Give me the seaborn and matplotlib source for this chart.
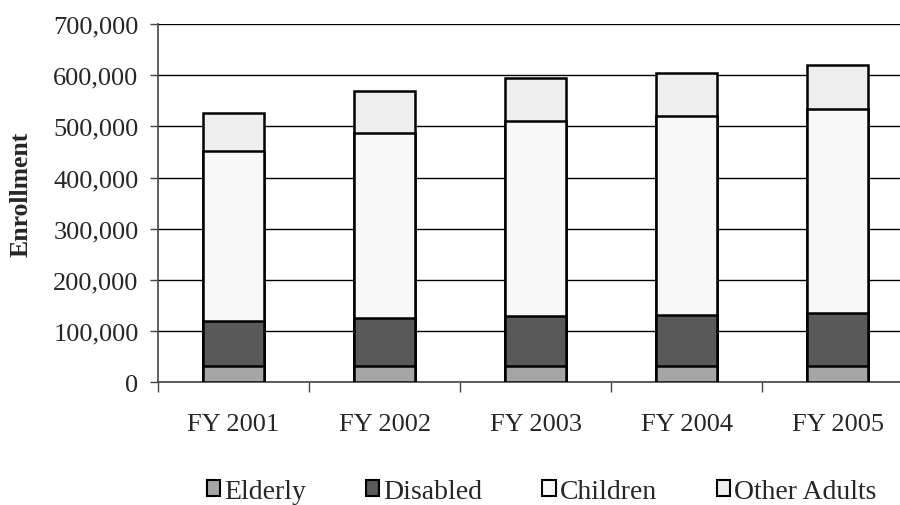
import pandas as pd
import matplotlib
matplotlib.use("Agg")
import matplotlib.pyplot as plt
import seaborn as sns
from matplotlib.patches import Patch

years = ["FY 2001", "FY 2002", "FY 2003", "FY 2004", "FY 2005"]
elderly = [32400, 32400, 32400, 32400, 32400]
disabled = [87900, 92600, 96500, 99600, 102900]
children = [330700, 362000, 382100, 387500, 398500]
other_adults = [75600, 82000, 83300, 84000, 86500]

groups = ["Elderly", "Disabled", "Children", "Other Adults"]
colors = ["#a6a6a6", "#595959", "#f8f8f8", "#eeeeee"]

df = pd.DataFrame({"year": years, "Elderly": elderly, "Disabled": disabled,
                   "Children": children, "Other Adults": other_adults})

# cumulative tops, drawn biggest first so smaller stacks sit on top
cum = df[groups].cumsum(axis=1)
cum["year"] = df["year"]

sns.set_style("white")
plt.rcParams["font.family"] = ["Liberation Serif", "DejaVu Serif"]

fig = plt.figure(figsize=(9, 5.06), dpi=100)
ax = fig.add_axes([0.1756, 0.2425, 0.839, 0.708])

for g, c in reversed(list(zip(groups, colors))):
    sns.barplot(data=cum, x="year", y=g, color=c, width=0.4,
                edgecolor="black", linewidth=1.8, saturation=1, ax=ax, zorder=3)

ax.set_ylim(0, 700000)
ax.set_xlim(-0.5, 4.5)
ax.set_yticks(range(0, 700001, 100000))
ax.set_yticklabels([f"{v:,}" for v in range(0, 700001, 100000)], fontsize=19)
ax.yaxis.grid(True, color="black", linewidth=1)
ax.set_axisbelow(True)
ax.set_ylabel("Enrollment", fontsize=18.5, fontweight="bold")
ax.yaxis.set_label_coords(-0.1656, 0.528)
ax.set_xlabel("")
ax.tick_params(axis="x", length=0, labelsize=19, pad=22)
ax.tick_params(axis="y", left=True, length=6, width=1, color="#444444", pad=8)
ax.set_xticks([i + 0.5 for i in range(-1, 5)], minor=True)
ax.tick_params(axis="x", which="minor", bottom=True, length=7, width=1, color="#444444")

for s in ["top", "right"]:
    ax.spines[s].set_visible(False)
for s in ["left", "bottom"]:
    ax.spines[s].set_color("#444444")
    ax.spines[s].set_linewidth(1.2)

handles = [Patch(facecolor=c, edgecolor="black", linewidth=1.5, label=g)
           for g, c in zip(groups, colors)]
fig.legend(handles=handles, loc="center", bbox_to_anchor=(0.602, 0.027), ncol=4,
           frameon=False, fontsize=20, handlelength=0.48, handleheight=0.48,
           handletextpad=0.15, columnspacing=2.15)

fig.savefig("out.png", dpi=100)
